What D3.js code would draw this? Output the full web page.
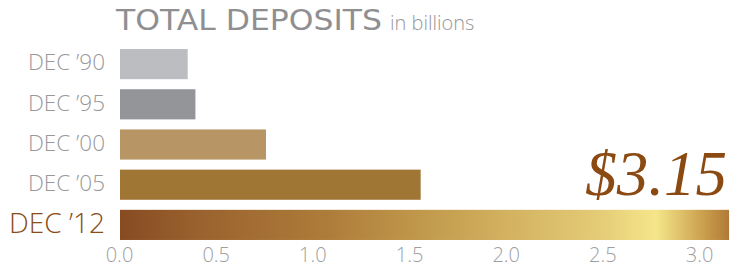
<!DOCTYPE html>
<html><head><meta charset="utf-8">
<script src="https://cdn.jsdelivr.net/npm/d3@7"></script>
<style>
html,body{margin:0;padding:0;background:#fff;}
svg{display:block;}
</style></head>
<body>
<svg id="chart" width="731" height="267"></svg>
<script>
const categories = ["DEC \u201990", "DEC \u201995", "DEC \u201900", "DEC \u201905", "DEC \u201912"];
const values = [0.35, 0.39, 0.755, 1.555, 3.15];
const barColors = ["#bcbdc0", "#939598", "#b89564", "#a07634", "url(#gold)"];
const tickValues = [0, 0.5, 1.0, 1.5, 2.0, 2.5, 3.0];
const titleMain = "TOTAL DEPOSITS";
const titleSub = "in billions";
const callout = "$3.15";

const svg = d3.select("#chart");
const defs = svg.append("defs");
const grad = defs.append("linearGradient").attr("id", "gold")
  .attr("x1", "0%").attr("x2", "100%").attr("y1", "0%").attr("y2", "0%");
[[0, "#874b22"], [0.13, "#9a622e"], [0.34, "#ae7c3a"], [0.52, "#c49d4f"], [0.65, "#d4b462"],
 [0.79, "#e5cc77"], [0.88, "#f5e68a"], [0.95, "#cfa653"], [1, "#b07a36"]]
  .forEach(([o, c]) => grad.append("stop").attr("offset", o).attr("stop-color", c));

const x = d3.scaleLinear().domain([0, 3.16]).range([120, 731]);
const y = d3.scaleBand().domain(categories).range([44, 245]).paddingInner(0.25).paddingOuter(0.125);

svg.selectAll("rect.bar").data(values).join("rect")
  .attr("class", "bar")
  .attr("x", x(0))
  .attr("y", (d, i) => y(categories[i]))
  .attr("width", d => x(d) - x(0))
  .attr("height", y.bandwidth())
  .attr("fill", (d, i) => barColors[i]);

const sans = "'Open Sans', Lato, sans-serif";

svg.selectAll("text.cat").data(categories).join("text")
  .attr("class", "cat")
  .attr("x", 105)
  .attr("y", d => y(d) + y.bandwidth() / 2)
  .attr("dy", "0.28em")
  .attr("text-anchor", "end")
  .attr("font-family", sans)
  .attr("font-weight", 300)
  .attr("font-size", (d, i) => i === 4 ? 28 : 22.5)
  .attr("fill", (d, i) => i === 4 ? "#8a4b14" : "#98989a")
  .text(d => d);

const axis = d3.axisBottom(x).tickValues(tickValues).tickSize(0).tickPadding(0)
  .tickFormat(d3.format(".1f"));
const ax = svg.append("g").attr("transform", "translate(-1,244)").call(axis);
ax.select(".domain").remove();
ax.selectAll("text")
  .attr("font-family", sans)
  .attr("font-weight", 300)
  .attr("font-size", 20)
  .attr("fill", "#9e9ea0")
  .attr("dy", 17.5);

const title = svg.append("text")
  .attr("x", 116).attr("y", 30)
  .attr("fill", "#8f8f91");
title.append("tspan")
  .attr("font-family", "'DejaVu Sans', sans-serif")
  .attr("font-size", 28).attr("font-weight", 400)
  .attr("textLength", 266).attr("lengthAdjust", "spacingAndGlyphs").text(titleMain);
title.append("tspan").attr("dx", 8)
  .attr("font-family", sans)
  .attr("font-size", 20).attr("font-weight", 300)
  .attr("fill", "#98989a").text(titleSub);

svg.append("text")
  .attr("x", 727).attr("y", 195)
  .attr("text-anchor", "end")
  .attr("font-family", "'Liberation Serif', 'DejaVu Serif', serif")
  .attr("font-style", "italic")
  .attr("font-size", 63)
  .attr("fill", "#8b4a12")
  .text(callout);
</script>
</body></html>
